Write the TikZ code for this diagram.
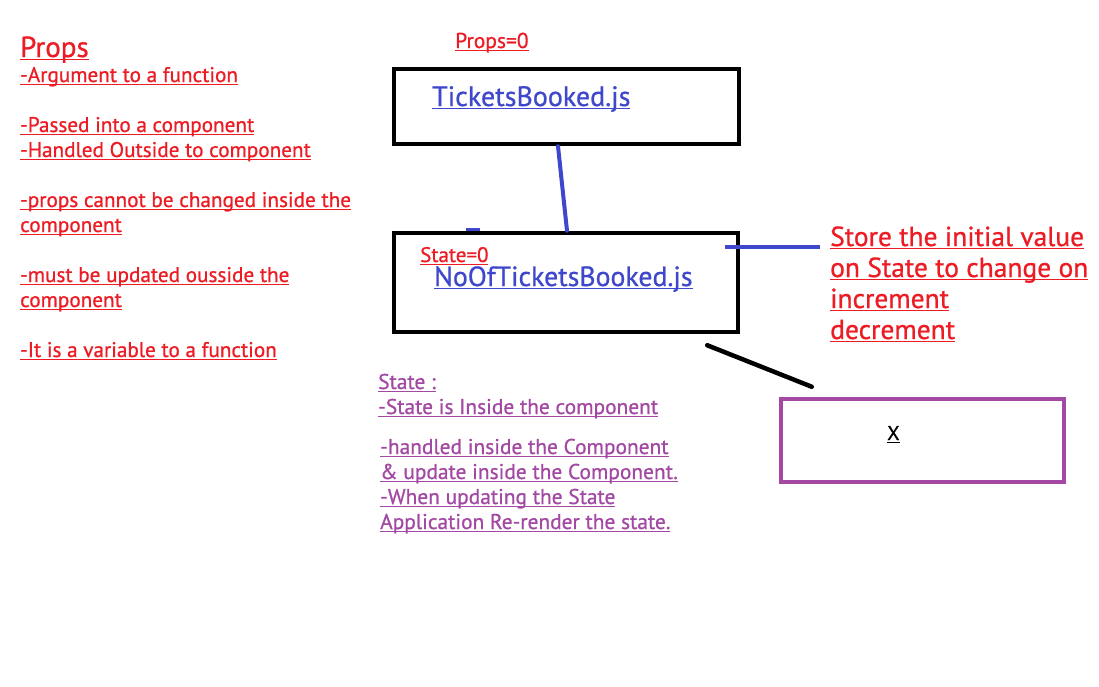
\documentclass[tikz,border=0pt]{standalone}
\usepackage{fontspec}
\setmainfont{PT Sans}[FakeBold=0.8]
\usetikzlibrary{calc}
\definecolor{paintred}{HTML}{ED1C24}
\definecolor{paintblue}{HTML}{3F48CC}
\definecolor{paintpurple}{HTML}{A349A4}
% underline at a fixed depth below the baseline
\newcommand\undl[1]{\setbox0\hbox{#1}\rlap{\rule[-2.6pt]{\wd0}{1pt}}\box0}

\begin{document}
\begin{tikzpicture}[x=1pt,y=-1pt,
    txt/.style={inner sep=0pt, anchor=base west},
    redtxt/.style={txt, text=paintred, font=\fontsize{21.2}{24}\selectfont},
    bluetxt/.style={txt, text=paintblue, font=\fontsize{28}{30}\selectfont},
    purpletxt/.style={txt, text=paintpurple, font=\fontsize{21.4}{24}\selectfont},
    filebox/.style={draw=black, line width=4.5pt, inner sep=0pt},
    link/.style={paintblue, line width=4pt, line cap=round}]
    \fill[white] (0,0) rectangle (1099,686);
    \useasboundingbox (0,0) rectangle (1099,686);

    % Props notes
    \node[redtxt, font=\fontsize{29}{32}\selectfont] (propstitle) at (20,57) {\undl{Props}};
    \foreach \yy/\txt [count=\i] in {82/{-Argument to a function},
        132/{-Passed into a component}, 157/{-Handled Outside to component},
        207/{-props cannot be changed inside the}, 232/{component},
        282/{-must be updated ousside the}, 307/{component},
        357/{-It is a variable to a function}}
      \node[redtxt] (props\i) at (20,\yy) {\undl{\txt}};

    % parent component
    \node[redtxt, font=\fontsize{21.5}{24}\selectfont] (propsval) at (455,48) {\undl{Props=0}};
    \node[filebox, minimum width=345, minimum height=75] (box1) at (566.5,106.5) {};
    \node[bluetxt] (parent) at (432,106) {\undl{TicketsBooked.js}};

    % child component
    \node[filebox, minimum width=344, minimum height=99] (box2) at (566,282.5) {};
    \node[redtxt, font=\fontsize{21}{24}\selectfont] (stateval) at (420,262) {\undl{State=0}};
    \node[bluetxt, font=\fontsize{27.8}{30}\selectfont] (child) at (434,286) {\undl{NoOfTicketsBooked.js}};

    \draw[link] ($(box1.south)+(-8.5,0)$) -- ($(box2.north)+(1,0)$);
    \draw[paintblue, line width=3pt] ($(box2.north west)+(74,-1)$) -- ++(14,0);

    % note on state
    \coordinate (storeend) at (820,247);
    \draw[link, line cap=butt] ($(box2.east)+(-15,-35.5)$) -- (storeend);
    \foreach \yy/\txt [count=\i] in {246/{Store the initial value},
        277/{on State to change on}, 308/{increment}, 339/{decrement}}
      \node[redtxt, font=\fontsize{27.5}{30}\selectfont] (store\i) at (830,\yy) {\undl{\txt}};

    % State notes
    \foreach \xx/\yy/\txt [count=\i] in {378/389/{State :},
        378/414/{-State is Inside the component},
        380/454/{-handled inside the Component},
        380/479/{\& update inside the Component.},
        380/504/{-When updating the State},
        380/529/{Application Re-render the state.}}
      \node[purpletxt] (state\i) at (\xx,\yy) {\undl{\txt}};

    % X box
    \node[filebox, draw=paintpurple, minimum width=283, minimum height=83] (xbox) at (922.5,440.5) {};
    \node[txt, font=\fontsize{20}{22}\selectfont] (xlabel) at (887,440) {\undl{X}};
    \draw[black, line width=4.5pt, line cap=round] ($(box2.south east)+(-33,11)$) -- ($(xbox.north west)+(33,-10)$);
\end{tikzpicture}
\end{document}
